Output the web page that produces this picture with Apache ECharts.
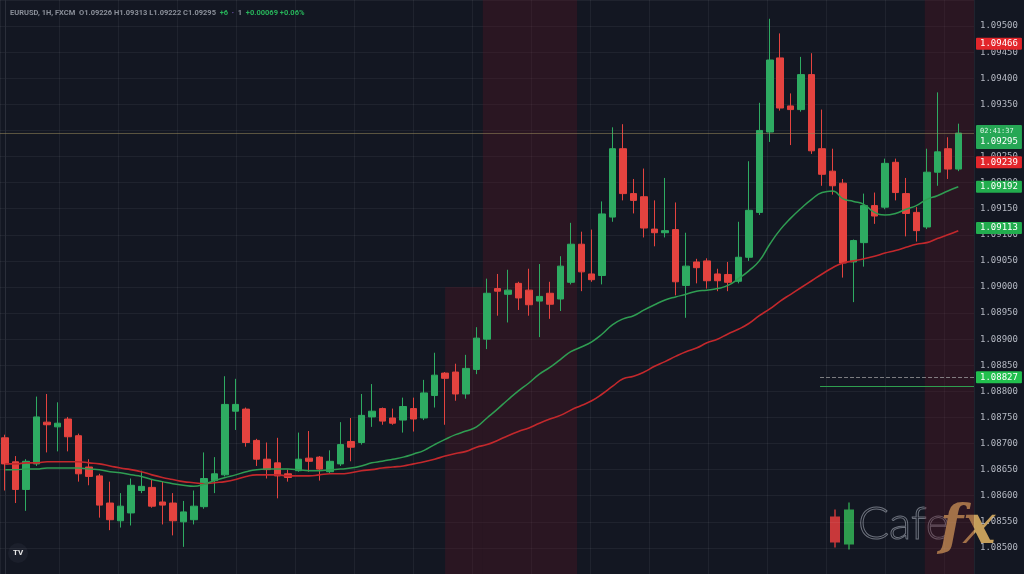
<!DOCTYPE html>
<html><head><meta charset="utf-8">
<script src="https://cdn.jsdelivr.net/npm/echarts@6/dist/echarts.min.js"></script>
<style>html,body{margin:0;padding:0;background:#131722;}#c{width:1024px;height:574px;}</style>
</head><body><div id="c"></div>
<script>
// ---- data (EURUSD-style hourly candles) ----
const opens = [1.08711,1.08665,1.08612,1.08661,1.08741,1.08732,1.08747,1.08715,1.08655,1.08638,1.08586,1.08552,1.08567,1.08610,1.08616,1.08588,1.08586,1.08550,1.08554,1.08579,1.08629,1.08640,1.08762,1.08766,1.08706,1.08670,1.08663,1.08642,1.08648,1.08672,1.08674,1.08646,1.08661,1.08704,1.08702,1.08751,1.08767,1.08749,1.08745,1.08767,1.08749,1.08792,1.08835,1.08837,1.08795,1.08842,1.08900,1.08997,1.08986,1.09007,1.08994,1.08973,1.08988,1.08977,1.09009,1.09082,1.09025,1.09022,1.09134,1.09265,1.09179,1.09173,1.09111,1.09104,1.09110,1.09003,1.09048,1.09050,1.09025,1.09024,1.09011,1.09057,1.09143,1.09297,1.09439,1.09347,1.09340,1.09407,1.09265,1.09222,1.09199,1.09048,1.09085,1.09156,1.09153,1.09239,1.09179,1.09143,1.09115,1.09220,1.09265,1.09226];
const closes = [1.08661,1.08612,1.08666,1.08751,1.08736,1.08739,1.08713,1.08642,1.08637,1.08582,1.08554,1.08580,1.08620,1.08618,1.08580,1.08582,1.08552,1.08569,1.08580,1.08633,1.08642,1.08775,1.08775,1.08702,1.08670,1.08650,1.08638,1.08635,1.08670,1.08666,1.08651,1.08666,1.08698,1.08693,1.08754,1.08762,1.08743,1.08739,1.08771,1.08747,1.08797,1.08831,1.08825,1.08795,1.08844,1.08902,1.08988,1.08992,1.08994,1.08979,1.08966,1.08982,1.08967,1.09040,1.09082,1.09029,1.09014,1.09140,1.09265,1.09179,1.09166,1.09113,1.09104,1.09108,1.09010,1.09040,1.09037,1.09012,1.09012,1.09009,1.09057,1.09147,1.09300,1.09435,1.09343,1.09340,1.09407,1.09261,1.09216,1.09194,1.09046,1.09089,1.09156,1.09136,1.09237,1.09181,1.09141,1.09108,1.09220,1.09259,1.09226,1.09295];
const lows = [1.08610,1.08586,1.08571,1.08657,1.08683,1.08685,1.08685,1.08627,1.08620,1.08558,1.08534,1.08539,1.08543,1.08605,1.08577,1.08545,1.08524,1.08502,1.08545,1.08575,1.08605,1.08637,1.08726,1.08694,1.08657,1.08633,1.08595,1.08627,1.08646,1.08646,1.08629,1.08642,1.08657,1.08666,1.08698,1.08732,1.08736,1.08736,1.08721,1.08723,1.08745,1.08769,1.08736,1.08782,1.08786,1.08833,1.08881,1.08945,1.08932,1.08956,1.08945,1.08904,1.08939,1.08954,1.09005,1.08992,1.09010,1.09005,1.09125,1.09166,1.09141,1.09095,1.09078,1.09095,1.08984,1.08941,1.09007,1.08997,1.08992,1.08992,1.09007,1.09050,1.09138,1.09278,1.09338,1.09272,1.09336,1.09255,1.09194,1.09177,1.09018,1.08971,1.09039,1.09121,1.09149,1.09166,1.09097,1.09087,1.09111,1.09194,1.09207,1.09222];
const highs = [1.08717,1.08676,1.08670,1.08790,1.08795,1.08779,1.08751,1.08719,1.08670,1.08642,1.08627,1.08605,1.08633,1.08648,1.08631,1.08627,1.08605,1.08590,1.08610,1.08683,1.08674,1.08829,1.08824,1.08769,1.08709,1.08702,1.08711,1.08650,1.08721,1.08724,1.08676,1.08687,1.08741,1.08749,1.08795,1.08814,1.08769,1.08767,1.08788,1.08788,1.08822,1.08874,1.08837,1.08853,1.08870,1.08923,1.09016,1.09025,1.09033,1.09010,1.09035,1.09044,1.09010,1.09059,1.09123,1.09106,1.09110,1.09164,1.09306,1.09312,1.09207,1.09227,1.09166,1.09209,1.09162,1.09104,1.09054,1.09055,1.09035,1.09048,1.09125,1.09241,1.09353,1.09514,1.09486,1.09371,1.09441,1.09448,1.09340,1.09265,1.09207,1.09091,1.09179,1.09181,1.09246,1.09246,1.09209,1.09153,1.09265,1.09373,1.09287,1.09313];
const maFast = [1.08650,1.08650,1.08651,1.08651,1.08653,1.08653,1.08653,1.08653,1.08651,1.08650,1.08646,1.08644,1.08640,1.08637,1.08631,1.08627,1.08623,1.08620,1.08618,1.08622,1.08629,1.08635,1.08640,1.08646,1.08650,1.08651,1.08651,1.08651,1.08650,1.08648,1.08648,1.08650,1.08651,1.08653,1.08657,1.08663,1.08666,1.08670,1.08674,1.08680,1.08687,1.08698,1.08708,1.08717,1.08724,1.08732,1.08749,1.08766,1.08784,1.08801,1.08816,1.08833,1.08846,1.08861,1.08876,1.08885,1.08895,1.08910,1.08928,1.08939,1.08945,1.08956,1.08966,1.08975,1.08981,1.08986,1.08992,1.08994,1.08997,1.09003,1.09016,1.09031,1.09050,1.09082,1.09110,1.09132,1.09151,1.09168,1.09181,1.09184,1.09169,1.09164,1.09158,1.09143,1.09138,1.09141,1.09149,1.09156,1.09168,1.09175,1.09184,1.09192];
const maSlow = [1.08661,1.08661,1.08663,1.08663,1.08665,1.08665,1.08665,1.08665,1.08663,1.08661,1.08657,1.08653,1.08650,1.08646,1.08640,1.08635,1.08631,1.08627,1.08625,1.08623,1.08625,1.08627,1.08631,1.08637,1.08640,1.08640,1.08640,1.08638,1.08638,1.08638,1.08640,1.08642,1.08642,1.08644,1.08648,1.08650,1.08653,1.08655,1.08657,1.08661,1.08665,1.08670,1.08676,1.08681,1.08685,1.08693,1.08698,1.08706,1.08715,1.08723,1.08730,1.08739,1.08747,1.08754,1.08764,1.08773,1.08782,1.08795,1.08810,1.08824,1.08829,1.08837,1.08848,1.08857,1.08867,1.08876,1.08883,1.08893,1.08900,1.08910,1.08919,1.08930,1.08945,1.08958,1.08973,1.08986,1.08999,1.09012,1.09025,1.09037,1.09046,1.09050,1.09054,1.09059,1.09065,1.09070,1.09076,1.09082,1.09085,1.09093,1.09100,1.09108];
// price tags on the right scale
const tagsRed = [1.09466, 1.09239];
const tagsGreen = [1.09192, 1.09113];
const lastPrice = 1.09295;
const countdown = '02:41:37';
const levelDashed = 1.08827;
const levelSolid = 1.08810;
const yMin = 1.0845, yMax = 1.0955, yStep = 0.0005;
const headerText = 'EURUSD, 1H, FXCM  O1.09226 H1.09313 L1.09222 C1.09295';

const GREEN = '#2eab62', RED = '#e4433f';
const candles = opens.map((o, i) => [i, o, closes[i], lows[i], highs[i]]);
const fastData = maFast.map((v, i) => [i, v]);
const slowData = maSlow.map((v, i) => [i, v]);

const HIDDEN = {color: 'rgba(0,0,0,0)', width: 0, type: 'solid'};
const tagLabel = (bg, txt) => ({show: true, formatter: txt, backgroundColor: bg});
const mlData = [];
tagsRed.forEach(v => mlData.push({yAxis: v, lineStyle: HIDDEN, label: tagLabel('#e3262b', v.toFixed(5))}));
tagsGreen.forEach(v => mlData.push({yAxis: v, lineStyle: HIDDEN, label: tagLabel('#22ad4e', v.toFixed(5))}));
mlData.push({yAxis: lastPrice, lineStyle: {color: 'rgba(150,135,90,0.55)', width: 1, type: 'solid'},
  label: {show: true, backgroundColor: '#26a755', offset: [0, 4], padding: [2, 4, 2, 4],
    formatter: '{s|' + countdown + '}\n{b|' + lastPrice.toFixed(5) + '}',
    rich: {s: {fontSize: 7, color: '#dff5e6', fontFamily: 'DejaVu Sans Mono', lineHeight: 9}, b: {fontSize: 9, color: '#fff', fontFamily: 'DejaVu Sans Mono', lineHeight: 11}}}});
mlData.push([
  {coord: [77.8, levelDashed], lineStyle: {color: 'rgba(170,170,170,0.7)', type: 'dashed', width: 1},
   label: tagLabel('#22c04e', levelDashed.toFixed(5))},
  {coord: [92.5, levelDashed]}]);
mlData.push([
  {coord: [77.8, levelSolid], lineStyle: {color: '#2f9e4f', type: 'solid', width: 1.2}, label: {show: false}},
  {coord: [92.5, levelSolid]}]);

const chart = echarts.init(document.getElementById('c'), null, {renderer: 'canvas'});
chart.setOption({
  backgroundColor: '#131722',
  animation: false,
  title: {
    left: 5, top: 4,
    text: '{g|' + headerText + '}{u|  +6}{p|  ·}{g|  1}{u|  +0.00069 +0.06%}',
    textStyle: {rich: {
      g: {fontSize: 7.5, color: '#8a8f99', fontFamily: 'Roboto'},
      u: {fontSize: 7.5, color: '#27b35a', fontFamily: 'Roboto'},
      p: {fontSize: 7.5, color: '#7b5cc4', fontFamily: 'Roboto'}
    }}
  },
  grid: [
    {left: 0, right: 50, top: -5.5, bottom: -8.7},
    {left: -12.8, right: 50, top: 0, bottom: 0}
  ],
  xAxis: [
    {type: 'value', gridIndex: 0, min: -0.5, max: 92.5, show: false, splitLine: {show: false}},
    {type: 'value', gridIndex: 1, min: 0, max: 16.5, interval: 1,
     axisLine: {show: false}, axisTick: {show: false}, axisLabel: {show: false},
     splitLine: {show: true, lineStyle: {color: 'rgba(255,255,255,0.055)', width: 1}}}
  ],
  yAxis: [
    {type: 'value', gridIndex: 0, position: 'right', min: yMin, max: yMax, interval: yStep,
     axisLine: {show: true, lineStyle: {color: '#2a2e39'}}, axisTick: {show: false},
     axisLabel: {color: '#b4b8c2', fontSize: 9, fontFamily: 'DejaVu Sans Mono', margin: 6,
       showMinLabel: false, showMaxLabel: false, formatter: v => v.toFixed(5)},
     splitLine: {show: true, lineStyle: {color: 'rgba(255,255,255,0.055)', width: 1}}},
    {type: 'value', gridIndex: 1, min: 0, max: 1, show: false}
  ],
  series: [
    {type: 'line', xAxisIndex: 1, yAxisIndex: 1, data: [], silent: true},
    {
      type: 'candlestick', xAxisIndex: 0, yAxisIndex: 0, data: candles,
      encode: {x: 0, y: [1, 2, 3, 4]}, barWidth: 7,
      itemStyle: {color: GREEN, color0: RED, borderColor: GREEN, borderColor0: RED, borderWidth: 1},
      markArea: {silent: true, itemStyle: {color: 'rgba(90,20,36,0.33)'}, data: [
        [{xAxis: 45.6, yAxis: yMin}, {xAxis: 54.6, yAxis: yMax}],
        [{xAxis: 42, yAxis: yMin}, {xAxis: 45.6, yAxis: 1.0900}],
        [{xAxis: 87.8, yAxis: yMin}, {xAxis: 92.5, yAxis: yMax}]
      ]},
      markLine: {silent: true, symbol: ['none', 'none'], precision: 5,
        label: {show: true, position: 'end', distance: 2, color: '#fff', fontSize: 9,
          fontFamily: 'DejaVu Sans Mono', padding: [2, 4, 1, 4], borderRadius: 1},
        data: mlData}
    },
    {type: 'line', data: slowData, smooth: true, symbol: 'none', z: 3,
     lineStyle: {color: '#c3282c', width: 1.6}},
    {type: 'line', data: fastData, smooth: true, symbol: 'none', z: 3,
     lineStyle: {color: '#2f9d52', width: 1.5}}
  ],
  graphic: [
    {type: 'group', left: 8, top: 543, children: [
      {type: 'circle', shape: {cx: 10, cy: 10, r: 10}, style: {fill: '#1b1f2b'}},
      {type: 'text', x: 10, y: 10, style: {text: 'TV', fill: '#e8e8e8', font: 'bold 8px Roboto', textAlign: 'center', textVerticalAlign: 'middle'}}
    ]},
    {type: 'group', left: 830, top: 500, silent: true, children: [
      {type: 'line', shape: {x1: 7, y1: 10, x2: 7, y2: 48}, style: {stroke: '#c8383a', lineWidth: 1.5}},
      {type: 'rect', shape: {x: 2, y: 17, width: 10, height: 26}, style: {fill: '#c8383a'}},
      {type: 'line', shape: {x1: 21, y1: 3, x2: 21, y2: 50}, style: {stroke: '#2e9c4e', lineWidth: 1.5}},
      {type: 'rect', shape: {x: 16, y: 10, width: 10, height: 35}, style: {fill: '#2e9c4e'}},
      {type: 'text', x: 30, y: 48, style: {text: 'Cafe', fill: 'rgba(0,0,0,0)', stroke: '#6d727d', lineWidth: 1, font: '300 46px Lato', textVerticalAlign: 'bottom'}},
      {type: 'text', x: 112, y: 56, style: {text: 'fx', fill: '#c59e5a', font: 'italic bold 54px "DejaVu Serif"', textVerticalAlign: 'bottom'}}
    ]}
  ]
});
</script></body></html>
